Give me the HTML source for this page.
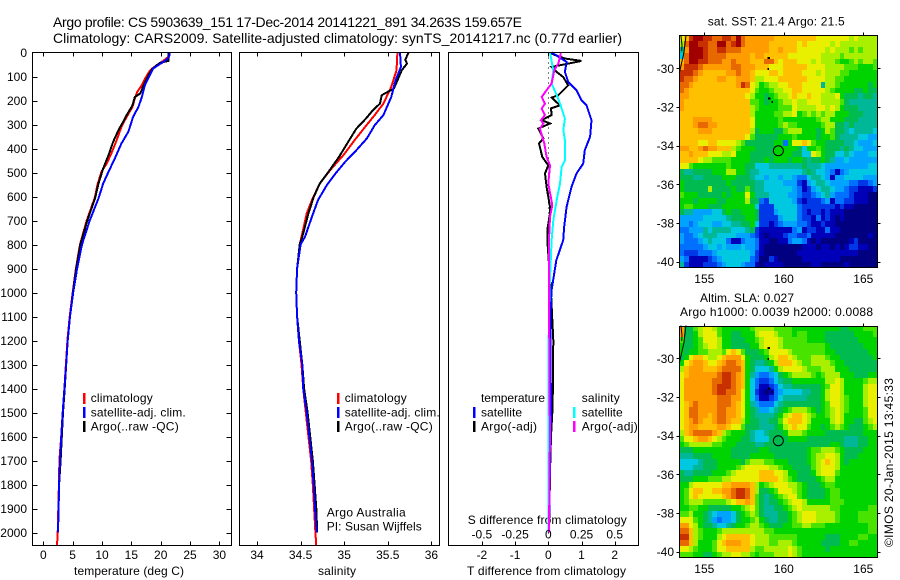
<!DOCTYPE html>
<html>
<head>
<meta charset="utf-8">
<title>Argo profile</title>
<style>
html,body{margin:0;padding:0;background:#fff;width:900px;height:580px;overflow:hidden}
svg{display:block}
text{font-family:"Liberation Sans",sans-serif;font-size:12px;fill:#000}
.title{font-size:14px}
</style>
</head>
<body>
<svg id="chart" xmlns="http://www.w3.org/2000/svg" width="900" height="580" viewBox="0 0 900 580">
<text class="title" x="53" y="27" textLength="469" lengthAdjust="spacing">Argo profile: CS 5903639_151 17-Dec-2014 20141221_891 34.263S 159.657E</text>
<text class="title" x="53" y="43" textLength="569" lengthAdjust="spacing">Climatology: CARS2009. Satellite-adjusted climatology: synTS_20141217.nc (0.77d earlier)</text>

<text x="74" y="575" textLength="110" lengthAdjust="spacing">temperature (deg C)</text>
<text x="318" y="575" textLength="38" lengthAdjust="spacing">salinity</text>
<text x="467" y="575" textLength="159" lengthAdjust="spacing">T difference from climatology</text>
<text x="467.7" y="524" textLength="159" lengthAdjust="spacing">S difference from climatology</text>

<g>
<rect x="83" y="393" width="2.5" height="11" fill="#ff0000"/>
<text x="90.7" y="402" textLength="62" lengthAdjust="spacing">climatology</text>
<rect x="83" y="407" width="2.5" height="11" fill="#0000ff"/>
<text x="90.7" y="416.5" textLength="95" lengthAdjust="spacing">satellite-adj. clim.</text>
<rect x="83" y="421" width="2.5" height="11" fill="#000"/>
<text x="90.7" y="430.5" textLength="88" lengthAdjust="spacing">Argo(..raw -QC)</text>
</g>
<g>
<rect x="337" y="393" width="2.5" height="11" fill="#ff0000"/>
<text x="344.7" y="402" textLength="62" lengthAdjust="spacing">climatology</text>
<rect x="337" y="407" width="2.5" height="11" fill="#0000ff"/>
<text x="344.7" y="416.5" textLength="95" lengthAdjust="spacing">satellite-adj. clim.</text>
<rect x="337" y="421" width="2.5" height="11" fill="#000"/>
<text x="344.7" y="430.5" textLength="88" lengthAdjust="spacing">Argo(..raw -QC)</text>
<text x="326.7" y="516.7" textLength="79" lengthAdjust="spacing">Argo Australia</text>
<text x="326.7" y="530.7" textLength="95" lengthAdjust="spacing">PI: Susan Wijffels</text>
</g>
<g>
<text x="481" y="402" textLength="64" lengthAdjust="spacing">temperature</text>
<rect x="473" y="407" width="2.5" height="11" fill="#0000ff"/>
<text x="481" y="416.5" textLength="41" lengthAdjust="spacing">satellite</text>
<rect x="473" y="421" width="2.5" height="11" fill="#000"/>
<text x="481" y="430.5" textLength="56" lengthAdjust="spacing">Argo(-adj)</text>
<text x="581.7" y="402" textLength="38" lengthAdjust="spacing">salinity</text>
<rect x="573" y="407" width="2.5" height="11" fill="#00ffff"/>
<text x="581.7" y="416.5" textLength="41" lengthAdjust="spacing">satellite</text>
<rect x="573" y="421" width="2.5" height="11" fill="#ff00ff"/>
<text x="581.7" y="430.5" textLength="56" lengthAdjust="spacing">Argo(-adj)</text>
</g>

<text x="707.7" y="25.5" textLength="137" lengthAdjust="spacing">sat. SST: 21.4 Argo: 21.5</text>
<text x="700" y="302" textLength="94" lengthAdjust="spacing">Altim. SLA: 0.027</text>
<text x="680" y="316" textLength="193" lengthAdjust="spacing">Argo h1000: 0.0039 h2000: 0.0088</text>
<text transform="translate(893 547) rotate(-90)" x="0" y="0" textLength="169" lengthAdjust="spacing">©IMOS 20-Jan-2015 13:45:33</text>
</svg>
<script>
// ---------- depth axis ----------
const depthTicks = [0,100,200,300,400,500,600,700,800,900,1000,1100,1200,1300,1400,1500,1600,1700,1800,1900,2000];

// ---------- temperature panel ----------
const tempTicks = [0,5,10,15,20,25,30];
const tempClimDepth = [0,18,36,53,74,110,136,164,199,227,268,310,365,414,463,497,553,602,700,800,900,1000,1100,1200,1300,1400,1500,1600,1700,1800,1900,2000,2055];
const tempClim = [21.4,21.3,20.4,19.3,18.2,17.3,16.8,16,15.5,15.2,14.2,13.3,12.5,11.7,10.8,9.9,9.2,8.8,7.4,6.25,5.55,5,4.5,4.1,3.85,3.6,3.3,3.05,2.75,2.65,2.55,2.45,2.33];
const tempSatDepth = [0,18,29,43,67,102,136,185,227,268,330,379,441,497,546,608,700,800,900,1000,1100,1200,1300,1400,1500,1600,1700,1800,1900,2000];
const tempSat = [21.5,21.45,21,20.2,18.7,18,17.3,16.8,16.2,15.3,14.5,13.3,12.2,11.1,10.2,9.4,7.9,6.6,5.75,5.1,4.55,4.15,3.9,3.6,3.3,3.07,2.85,2.7,2.6,2.5];
const tempArgoDepth = [0,35,43,67,95,136,171,185,220,261,289,324,372,428,483,546,608,700,800,900,1000,1100,1200,1300,1400,1500,1600,1700,1800,1900,2000];
const tempArgo = [21.3,21.3,19.9,18.6,17.9,17.1,16.5,15.6,15.2,14.2,13.6,12.8,11.9,11.1,10.2,9.4,8.8,7.5,6.3,5.6,5.05,4.55,4.15,3.9,3.65,3.35,3.15,2.95,2.7,2.6,2.5];

// ---------- salinity panel ----------
const salTicks = [34,34.5,35,35.5,36];
const salTickLabels = ["34","34.5","35","35.5","36"];
const salClimDepth = [0,74,143,213,261,310,365,428,490,546,615,671,768,800,900,1000,1100,1200,1300,1400,1500,1600,1700,1800,1900,2000,2055];
const salClim = [35.61,35.6,35.54,35.45,35.35,35.24,35.12,34.99,34.84,34.72,34.63,34.57,34.51,34.49,34.46,34.45,34.46,34.48,34.51,34.53,34.56,34.59,34.62,34.64,34.655,34.67,34.68];
const salSatDepth = [0,60,115,185,261,303,358,407,456,504,553,615,685,768,800,900,1000,1100,1200,1300,1400,1500,1600,1700,1800,1900,2000];
const salSat = [35.64,35.65,35.59,35.54,35.45,35.35,35.26,35.14,35.01,34.9,34.8,34.7,34.63,34.55,34.5,34.46,34.45,34.46,34.48,34.52,34.53,34.57,34.6,34.63,34.65,34.665,34.685];
const salArgoDepth = [0,30,46,74,150,178,213,240,275,317,358,435,497,546,602,671,768,800,900,1000,1100,1200,1300,1400,1500,1600,1700,1800,1900,2000];
const salArgo = [35.74,35.7,35.72,35.66,35.57,35.43,35.41,35.33,35.25,35.14,35.07,34.94,34.82,34.72,34.65,34.59,34.52,34.49,34.46,34.45,34.46,34.49,34.52,34.54,34.58,34.61,34.64,34.66,34.68,34.69];

// ---------- difference panel ----------
const diffTTicks = [-2,-1,0,1,2];
const diffSTicks = [-0.5,-0.25,0,0.25,0.5];
const diffSTickLabels = ["-0.5","-0.25","0","0.25","0.5"];
const diffTSatDepth = [0,39,81,122,157,199,220,282,351,407,463,504,560,643,726,782,866,990,1100,1300,1500,1700,2000];
const diffTSat = [0.1,0.55,0.5,0.6,0.85,1.0,1.15,1.3,1.26,1.1,1.05,0.85,0.7,0.55,0.48,0.45,0.24,0.1,0.06,0.07,0.08,0.05,0.02];
const diffTArgoDepth = [3,25,35,49,60,81,102,137,178,188,220,233,261,282,296,317,358,379,435,470,504,560,643,671,740,782,1000,1200,1400,1500,1600,1700,2000];
const diffTArgo = [0.05,0.5,1.0,0.5,0.1,0.25,0.45,0.6,0.3,0.1,0.35,0.08,0.1,-0.2,0.05,-0.3,-0.15,-0.28,-0.18,0,-0.1,-0.05,0.05,0.05,-0.03,-0.03,0.08,0.15,0.14,0.12,0.08,0.06,0.02];
const diffSSatDepth = [0,74,129,178,213,275,324,365,449,477,546,615,699,782,1000,1300,1600,2000];
const diffSSat = [0.0125,0.038,0.025,0.063,0.088,0.125,0.113,0.125,0.125,0.1,0.088,0.063,0.038,0.025,0.008,0,0,0.002];
const diffSArgoDepth = [3,46,74,129,185,213,233,261,282,296,317,379,435,470,546,636,685,782,1000,1300,1600,2000];
const diffSArgo = [0.095,0.075,0.045,0.025,-0.05,-0.025,-0.05,-0.025,-0.055,-0.038,-0.063,-0.03,-0.0125,0.0125,0,0.03,0.0125,0.005,0.005,0.008,0.012,0.005];

// ---------- map axes ----------
const lonTicks = [155,160,165];
const latTicks = [-30,-32,-34,-36,-38,-40];
const argoLon = 159.657;
const argoLat = -34.263;
const coastLon = [153.85,153.72,153.43];
const coastLat = [-28.3,-29.2,-30.25];
const coastLon2 = [153.53,153.6,153.58];
const coastLat2 = [-28.3,-28.8,-29.1];
const islandLon = [159.03,159.03,159.07,159.28];
const islandLat = [-29.48,-30.04,-31.55,-31.73];

// colour levels, cold to warm
const levelColors = ["#000080","#0000b8","#0038e8","#0070ff","#00a4ff","#00c8e0","#00b898","#00bc50","#00d400","#48e400","#a8f000","#e8f000","#ffc000","#ff9c00","#e86800","#c83000","#a00000"];

// ---------- sea surface temperature (colour level per cell) ----------
const sstCells = [
[11,12,15,16,16,15,15,14,14,15,15,14,16,14,13,13,13,13,13,13,12,12,12,12,12,12,12,12,12,11,11,11,11,11,11,11,10,11,10,10,10,10],
[10,14,16,16,15,15,14,14,16,16,14,15,16,14,13,13,13,13,13,12,12,12,12,12,12,11,12,11,11,11,11,11,10,11,10,10,10,10,10,10,10,10],
[6,13,16,16,16,15,14,14,15,15,14,14,14,13,13,13,13,13,13,12,12,13,12,12,12,11,11,11,11,11,11,10,11,10,10,10,9,10,9,10,10,10],
[5,14,16,16,16,15,14,14,14,14,13,13,13,13,13,12,13,13,12,12,12,12,12,11,11,11,11,11,11,11,10,10,10,10,9,10,10,10,10,10,10,10],
[12,14,16,16,15,15,14,14,14,13,13,14,13,13,13,12,12,12,14,14,12,11,12,12,12,11,11,11,10,11,10,10,10,9,8,8,9,10,9,10,10,9],
[13,15,15,15,14,13,13,13,13,13,13,14,14,13,13,13,12,12,12,11,11,11,12,12,12,12,12,11,11,11,11,10,10,10,10,9,9,9,8,8,8,9],
[15,15,15,14,13,12,12,12,12,12,13,13,14,13,13,12,11,11,11,12,12,11,12,12,12,12,11,11,11,10,11,10,10,10,9,9,8,8,8,8,8,8],
[15,14,14,13,12,12,12,12,13,13,12,12,13,13,13,12,10,10,11,11,11,12,12,12,12,12,12,11,11,11,11,10,10,9,9,8,8,8,8,8,8,8],
[14,14,13,12,12,12,12,12,12,12,12,12,13,15,14,11,10,8,9,10,10,11,11,12,12,12,11,11,11,11,6,10,10,9,8,8,8,8,8,8,7,8],
[14,13,12,12,12,12,12,12,12,12,12,12,12,12,12,11,9,8,8,9,10,10,11,11,12,12,11,11,11,11,11,10,9,8,8,8,8,7,7,8,7,7],
[13,13,12,12,12,12,12,12,12,12,12,12,12,12,11,10,8,8,7,8,9,10,10,11,12,11,11,12,11,11,10,10,10,11,8,7,7,7,6,7,7,6],
[13,12,12,12,12,12,12,12,12,12,12,12,12,12,12,9,9,8,7,8,8,9,10,10,11,10,10,11,11,11,10,10,10,10,9,7,6,6,6,6,6,6],
[13,12,12,12,12,12,12,12,12,12,12,12,12,12,12,10,9,8,8,8,8,9,9,9,11,10,10,10,10,11,11,10,11,10,8,7,7,7,6,6,6,6],
[12,12,12,12,12,12,12,12,12,12,12,12,12,12,12,10,8,8,8,8,9,9,10,10,11,8,9,10,9,10,9,10,10,8,8,8,7,7,7,6,6,6],
[12,12,12,13,13,13,13,12,12,12,12,12,12,12,12,11,8,8,8,8,8,9,8,8,8,8,8,8,8,9,10,10,8,8,8,7,7,7,6,6,6,6],
[12,12,12,13,14,14,13,13,12,12,12,12,12,12,12,11,8,8,8,8,8,9,10,9,9,8,8,8,8,8,9,10,10,7,7,6,7,6,6,6,6,6],
[12,12,12,12,13,13,13,12,12,12,12,12,12,12,12,10,7,8,8,8,7,7,9,10,10,10,8,8,8,7,8,10,9,7,7,6,5,6,6,6,6,5],
[12,12,12,12,12,12,12,12,12,12,12,12,12,12,11,9,7,7,7,7,7,8,8,8,9,8,8,8,8,7,8,8,9,7,6,6,6,6,5,5,4,4],
[12,12,12,12,11,11,12,12,11,11,11,11,10,9,7,7,7,7,7,7,8,8,3,8,11,11,12,11,9,8,8,7,7,7,7,6,6,5,4,4,4,5],
[13,13,12,12,13,14,13,13,12,12,12,10,9,8,8,8,7,7,7,7,8,8,8,8,8,7,5,8,8,9,8,7,7,7,6,7,6,5,5,4,4,4],
[12,12,13,12,12,12,11,11,11,10,10,11,8,8,8,7,7,7,7,7,8,8,8,8,7,7,5,5,11,10,8,7,7,5,5,6,5,4,4,4,5,5],
[12,12,12,12,11,10,10,9,9,9,9,8,8,8,8,7,7,7,8,7,8,8,8,7,8,8,7,6,7,7,8,7,6,4,4,5,4,4,4,4,4,4],
[11,11,9,8,8,8,8,8,8,8,9,8,8,8,7,7,5,5,5,6,6,6,6,6,6,6,7,6,6,6,5,4,4,4,4,4,4,4,4,4,5,5],
[7,6,6,7,7,7,7,8,8,8,10,10,8,8,7,6,6,5,5,5,5,5,5,5,5,5,6,7,6,5,5,4,3,1,3,4,5,5,5,5,5,5],
[7,7,7,6,6,7,7,7,7,8,8,8,7,7,7,6,5,5,4,5,5,4,5,5,4,3,3,5,6,6,5,4,1,4,4,5,5,5,5,4,4,4],
[8,7,7,7,7,7,7,7,7,7,8,7,7,7,7,7,6,6,5,5,5,5,4,4,4,2,1,4,5,6,6,5,4,4,4,4,3,3,2,2,3,4],
[8,7,7,7,7,7,10,7,7,7,7,8,7,7,9,7,6,6,5,5,5,5,5,5,4,3,1,2,4,5,6,6,5,4,4,3,2,2,1,1,1,2],
[9,8,8,8,7,7,7,7,7,8,7,8,8,8,11,8,6,6,6,5,5,5,5,4,4,3,2,2,3,4,5,6,4,3,3,3,2,1,1,1,0,0],
[8,8,8,7,8,8,8,8,7,7,8,8,8,8,10,7,7,3,2,5,5,5,5,5,4,2,1,2,2,2,3,4,1,3,3,2,2,1,1,1,0,0],
[8,9,9,8,8,8,7,7,7,8,8,8,8,8,8,8,5,2,2,2,5,5,5,5,5,3,2,2,2,2,2,2,2,1,2,1,1,0,0,0,0,0],
[7,6,6,4,4,4,4,5,5,7,8,7,7,8,8,8,7,2,2,2,4,5,5,5,5,3,2,1,2,2,1,2,1,1,1,0,0,0,0,0,0,0],
[4,4,4,4,4,5,5,5,5,5,6,7,7,7,8,8,7,2,2,2,2,4,5,5,5,3,2,2,1,3,1,2,1,0,1,0,0,0,0,0,0,0],
[4,4,3,4,5,5,5,4,4,5,5,6,6,7,7,8,5,2,2,1,2,3,4,4,4,3,3,2,1,1,2,1,1,0,0,0,0,0,0,0,0,0],
[3,3,4,4,4,6,5,6,6,6,6,5,5,5,6,7,2,1,1,1,1,1,1,1,3,4,1,2,2,1,1,3,1,1,0,0,0,0,0,0,0,0],
[4,3,3,4,5,6,6,6,5,5,5,5,4,4,4,3,2,1,0,1,1,1,2,3,3,2,2,3,1,1,1,1,1,0,0,0,0,0,0,0,1,0],
[4,3,3,3,4,5,6,5,5,5,3,1,1,3,4,4,3,1,1,0,0,1,1,3,4,4,3,1,0,1,0,0,0,0,0,0,1,2,0,0,0,0],
[3,3,3,3,3,4,5,5,4,5,4,4,4,5,4,4,3,1,0,0,0,0,0,0,0,0,1,1,1,0,1,1,0,1,0,1,2,2,1,1,0,0],
[3,2,2,2,3,3,3,4,5,5,5,5,5,5,5,4,2,1,0,0,0,0,0,0,0,1,1,1,1,1,1,1,1,1,1,1,1,1,0,0,0,0],
[4,3,1,1,1,1,2,3,4,5,5,5,5,5,5,3,2,0,0,2,1,0,0,0,0,0,1,1,1,1,1,1,1,1,0,0,0,0,0,0,0,0],
[6,2,1,1,1,2,2,2,3,4,5,5,5,4,3,3,1,0,1,1,1,1,0,0,0,0,0,0,1,1,0,0,0,0,0,1,0,0,0,0,0,0]
];

// ---------- sea level anomaly (colour level per cell) ----------
const slaCells = [
[13,7,7,9,10,11,11,10,9,8,8,8,8,8,8,9,10,10,10,10,9,9,9,9,8,8,8,8,8,8,8,8,8,8,7,7,8,8,8,9,9,9],
[13,7,7,8,10,11,11,11,9,8,8,7,7,8,8,8,10,11,11,11,10,9,9,9,8,9,9,8,8,8,8,7,7,7,7,7,7,8,8,8,8,9],
[9,7,7,8,9,11,11,11,10,8,8,7,7,7,8,8,9,10,11,11,11,10,9,9,9,9,9,8,8,8,8,7,7,7,7,7,7,7,8,8,8,8],
[8,7,7,8,9,10,11,11,10,8,8,7,7,7,7,8,8,10,11,11,11,10,9,9,9,9,9,9,9,9,9,8,7,7,7,7,7,7,7,8,8,8],
[8,7,8,8,9,9,10,10,10,9,11,12,11,9,7,7,7,8,9,11,11,11,11,10,9,9,9,9,9,9,9,8,8,7,7,7,7,7,7,7,8,8],
[7,8,11,12,12,11,10,10,11,12,13,13,13,11,8,7,7,7,8,10,11,12,12,11,10,9,9,9,10,10,10,9,8,8,7,7,7,7,7,7,7,8],
[8,11,12,13,13,12,11,11,12,13,14,14,13,12,8,7,6,6,7,8,10,12,12,12,11,10,9,9,10,10,10,10,9,8,8,7,7,7,7,7,7,7],
[10,12,13,13,13,12,12,12,13,14,14,14,14,12,8,7,5,5,5,6,8,10,11,11,11,11,10,9,9,9,10,10,10,8,8,8,7,7,7,7,7,7],
[11,12,13,13,13,13,13,13,14,15,15,14,13,12,8,6,4,3,3,4,5,7,8,9,10,10,10,10,9,8,9,10,10,10,8,8,8,7,7,7,8,8],
[11,13,13,13,13,13,13,14,14,15,15,14,13,12,8,5,3,2,2,3,5,6,7,7,8,8,8,8,8,8,8,10,10,11,10,8,8,8,8,9,10,10],
[11,13,13,13,13,13,13,14,15,15,15,14,13,12,8,5,3,1,1,2,3,5,6,6,7,7,7,7,7,7,8,9,11,11,10,8,8,8,8,10,11,11],
[11,13,13,13,13,13,13,14,15,15,14,14,13,11,8,5,2,1,0,1,3,4,5,5,5,5,6,6,7,7,8,10,11,11,10,8,8,8,8,10,11,11],
[11,13,13,13,13,13,13,13,14,14,14,13,13,11,8,5,3,1,1,2,3,5,6,6,6,6,6,7,7,7,8,10,11,11,10,9,8,8,8,10,11,11],
[11,12,13,14,13,13,13,13,14,14,14,13,12,11,8,6,4,3,3,3,5,6,7,7,7,7,7,7,7,7,8,9,11,11,10,9,8,8,8,10,11,11],
[11,12,14,14,13,13,13,13,14,14,13,13,12,11,8,7,6,4,4,5,6,7,8,9,10,10,10,9,8,7,8,9,10,11,10,9,8,8,8,9,11,11],
[11,12,14,14,13,13,12,13,14,14,13,13,12,11,8,7,6,6,6,6,7,8,10,11,12,12,11,10,9,8,8,9,10,11,10,8,8,8,8,9,11,11],
[11,12,13,14,13,12,12,13,14,14,13,12,12,10,8,7,7,6,6,7,7,9,11,12,12,12,11,10,8,8,8,8,10,11,10,8,8,7,7,9,10,11],
[11,12,13,13,12,12,12,12,13,13,12,11,11,9,7,7,7,6,6,6,7,8,10,11,12,11,11,9,8,8,7,8,9,10,9,8,7,7,7,8,9,10],
[10,12,13,14,14,14,14,13,12,10,9,8,8,8,7,6,5,5,6,7,7,7,8,10,10,10,9,8,8,8,8,7,7,7,7,7,7,7,7,8,8,8],
[9,11,11,12,13,13,12,11,10,9,8,8,8,7,7,6,5,5,5,7,7,7,7,8,8,8,8,7,7,7,7,7,7,7,7,6,6,6,7,7,8,8],
[8,9,10,10,10,10,10,9,9,8,8,8,7,7,7,7,6,6,7,7,7,7,7,7,7,7,7,7,7,7,7,7,8,8,7,6,6,6,7,7,8,8],
[7,7,7,8,8,8,8,8,8,8,8,7,7,7,7,7,7,8,8,7,7,7,7,7,7,7,7,8,9,9,10,10,10,9,8,7,7,7,7,8,8,8],
[6,6,6,7,7,7,7,8,8,8,8,7,7,7,7,8,8,8,8,8,7,7,7,7,7,7,7,8,9,10,10,11,11,10,8,7,7,7,8,8,8,8],
[5,5,5,5,6,7,7,7,8,8,8,8,8,7,9,10,10,10,9,9,8,8,8,7,7,7,7,8,9,10,11,12,11,10,8,7,8,8,8,8,8,8],
[5,5,5,6,6,7,7,7,8,8,8,8,9,10,11,11,11,11,11,10,10,9,8,8,7,7,7,7,9,10,11,11,11,10,8,8,8,8,8,8,8,8],
[7,6,6,7,7,7,7,8,8,8,9,10,11,11,11,11,11,12,12,12,11,11,10,8,8,7,7,7,8,10,11,11,11,9,8,8,8,8,8,8,8,8],
[7,7,7,8,8,8,9,9,9,10,10,11,11,11,11,11,11,12,12,12,12,11,10,9,8,7,7,7,7,8,9,10,10,8,8,8,8,8,8,8,8,8],
[8,8,10,11,11,11,11,11,11,12,12,13,13,13,13,12,10,8,9,10,11,11,11,10,10,9,8,7,7,7,8,9,9,8,8,8,8,8,8,8,8,8],
[8,9,11,12,12,11,11,12,12,13,13,14,15,15,14,12,10,7,7,8,9,11,11,11,10,9,8,7,7,7,7,8,9,9,8,8,8,8,8,8,8,8],
[8,9,11,12,11,11,11,11,11,12,13,14,15,15,14,12,9,7,6,7,8,9,10,11,11,9,8,7,7,7,7,8,9,9,8,8,8,8,8,8,8,8],
[8,9,10,10,10,9,9,9,9,9,10,11,12,12,13,12,9,7,6,7,7,8,9,10,11,11,10,8,8,8,8,8,9,9,9,8,8,8,8,8,8,8],
[8,8,9,9,8,8,7,7,7,7,7,8,8,9,10,11,9,7,6,6,7,7,8,9,10,11,10,10,10,10,10,10,9,9,8,8,8,8,8,8,9,9],
[9,9,10,8,8,7,6,5,4,4,4,5,7,8,9,10,9,7,6,6,6,7,7,8,9,10,11,11,11,10,10,10,10,9,8,8,8,8,9,9,9,9],
[11,11,11,9,8,7,6,4,3,4,4,5,7,8,8,9,10,8,7,6,6,7,7,8,9,10,11,11,11,10,10,10,10,9,8,8,8,8,9,9,9,9],
[13,13,11,10,8,7,7,6,5,5,6,7,8,8,9,10,10,9,8,7,7,7,8,8,9,9,10,10,9,9,9,8,8,8,8,8,8,8,8,8,9,9],
[14,14,12,10,9,8,8,8,9,10,10,10,10,10,10,10,10,10,9,9,8,8,8,8,8,8,8,8,8,8,8,8,8,8,8,8,8,8,8,8,9,9],
[15,15,12,10,9,8,8,8,10,11,12,12,12,12,12,11,10,10,10,9,9,9,9,9,9,8,8,8,8,8,8,7,7,7,8,8,8,8,9,9,8,8],
[14,14,12,10,8,8,8,9,11,12,13,13,13,12,12,11,10,10,10,9,9,10,10,10,9,8,8,8,8,8,7,7,7,7,8,8,9,9,8,8,8,8],
[11,11,10,9,8,8,8,9,11,11,12,12,12,12,12,10,9,9,10,10,10,10,10,11,10,9,8,8,8,8,8,7,8,8,8,8,8,8,8,8,8,8],
[9,9,9,8,8,7,7,8,9,10,10,11,11,10,10,9,8,9,9,9,10,10,10,11,10,9,8,8,8,8,8,8,8,8,8,8,8,8,8,8,8,8]
];

const svg = document.getElementById('chart');
const NS = 'http://www.w3.org/2000/svg';
function mk(tag, attrs, parent) {
  const el = document.createElementNS(NS, tag);
  for (const k in attrs) el.setAttribute(k, attrs[k]);
  (parent || svg).appendChild(el);
  return el;
}

// axis functions
const yDepth = d => 52.5 + d * 0.24;
const xTemp = t => 43.3 + t * 5.87;
const xSal = s => 257 + (s - 34) * 87.2;
const xDT = t => 548.3 + t * 33.2;
const xDS = s => 548.3 + s * 132.8;
const xLon = lon => 704.3 + (lon - 155) * 15.9;
const yLat1 = lat => 68.3 + (-30 - lat) * 19.34;
const yLat2 = lat => 358.3 + (-30 - lat) * 19.34;

function drawSeries(name, depths, values, xFn, color, width) {
  const pts = values.map((v, i) => xFn(v).toFixed(1) + ',' + yDepth(depths[i]).toFixed(1)).join(' ');
  const el = mk('polyline', {points: pts, fill: 'none', stroke: color, 'stroke-width': width, 'shape-rendering': 'crispEdges'});
  
  
}
function box(name, x0, y0, x1, y1) {
  const el = mk('rect', {x: x0, y: y0, width: x1 - x0, height: y1 - y0, fill: 'none', stroke: '#000', 'stroke-width': 1, 'shape-rendering': 'crispEdges'});
  
  
}
function tick(x1, y1, x2, y2) {
  const el = mk('line', {x1: x1, y1: y1, x2: x2, y2: y2, stroke: '#000', 'stroke-width': 1, 'shape-rendering': 'crispEdges'});
  
  
}
function label(txt, x, y, anchor) {
  const el = mk('text', {x: x, y: y, 'text-anchor': anchor});
  el.textContent = txt;
  
  
}
function xTicks(vals, labels, fn, y, yBot, yLabel) {
  vals.forEach((v, i) => {
    const x = Math.round(fn(v)) + 0.5;
    tick(x, y, x, y + 4);
    tick(x, yBot, x, yBot - 4);
    if (labels) label(labels[i], fn(v), yLabel, 'middle');
  });
}

// profile panels
const top0 = 52.5, bot0 = 545.5;

drawSeries('temperature-climatology-line', tempClimDepth, tempClim, xTemp, '#ff0000', 2);
drawSeries('temperature-argo-line', tempArgoDepth, tempArgo, xTemp, '#000000', 2);
drawSeries('temperature-satellite-line', tempSatDepth, tempSat, xTemp, '#0000ff', 2);
box('temperature-panel-frame', 32.5, top0, 231.5, bot0);
xTicks(tempTicks, tempTicks.map(String), xTemp, top0, bot0, 559);
depthTicks.forEach(d => {
  const y = Math.round(yDepth(d)) + 0.5;
  if (d > 0) {
    tick(32.5, y, 37.5, y);
    tick(231.5, y, 226.5, y);
  }
  label(String(d), 27, yDepth(d) + 4.5, 'end');
});

drawSeries('salinity-climatology-line', salClimDepth, salClim, xSal, '#ff0000', 2);
drawSeries('salinity-argo-line', salArgoDepth, salArgo, xSal, '#000000', 2);
drawSeries('salinity-satellite-line', salSatDepth, salSat, xSal, '#0000ff', 2);
box('salinity-panel-frame', 239.5, top0, 439.5, bot0);
xTicks(salTicks, salTickLabels, xSal, top0, bot0, 559);

const zero = mk('line', {x1: xDT(0), y1: yDepth(0), x2: xDT(0), y2: yDepth(2055), stroke: '#000', 'stroke-width': 1, 'stroke-dasharray': '1 4', 'shape-rendering': 'crispEdges'});


drawSeries('t-difference-argo-line', diffTArgoDepth, diffTArgo, xDT, '#000000', 2);
drawSeries('t-difference-satellite-line', diffTSatDepth, diffTSat, xDT, '#0000ff', 2);
drawSeries('s-difference-satellite-line', diffSSatDepth, diffSSat, xDS, '#00ffff', 2);
drawSeries('s-difference-argo-line', diffSArgoDepth, diffSArgo, xDS, '#ff00ff', 2);
box('difference-panel-frame', 448.5, top0, 638.5, bot0);
xTicks(diffTTicks, diffTTicks.map(String), xDT, top0, bot0, 559);
diffSTicks.forEach((v, i) => label(diffSTickLabels[i], xDS(v), 538.7, 'middle'));

// maps
function drawMap(name, cells, top, bottom, yLat) {
  const left = 679.3, right = 877.3;
  const g = mk('g', {});
  
  
  const nRows = cells.length, nCols = cells[0].length;
  const cw = (right - left) / nCols, ch = (bottom - top) / nRows;
  cells.forEach((row, r) => {
    row.forEach((v, c) => {
      const x0 = Math.round(left + c * cw), x1 = Math.round(left + (c + 1) * cw);
      const y0 = Math.round(top + r * ch), y1 = Math.round(top + (r + 1) * ch);
      const cell = mk('rect', {x: x0, y: y0, width: x1 - x0, height: y1 - y0, fill: levelColors[v], 'shape-rendering': 'crispEdges'}, g);
      
      
    });
  });
  [[coastLon, coastLat], [coastLon2, coastLat2]].forEach(pair => {
    const pts = pair[0].map((lon, i) => xLon(lon).toFixed(1) + ',' + yLat(pair[1][i]).toFixed(1)).join(' ');
    const coast = mk('polyline', {points: pts, fill: 'none', stroke: '#000', 'stroke-width': 1}, g);
    
    
  });
  islandLon.forEach((lon, i) => {
    const isl = mk('rect', {x: xLon(lon) - 1, y: yLat(islandLat[i]) - 1, width: i % 2 ? 1.5 : 2.5, height: 2, fill: '#000', 'shape-rendering': 'crispEdges'}, g);
    
    
  });
  const circ = mk('circle', {cx: xLon(argoLon), cy: yLat(argoLat), r: 5, fill: 'none', stroke: '#000', 'stroke-width': 1}, g);
  
  
  box(name + '-frame', 679.5, Math.round(top) + 0.5, 877.5, Math.round(bottom) + 0.5);
  lonTicks.forEach(lon => {
    const x = Math.round(xLon(lon)) + 0.5;
    tick(x, Math.round(top) - 2.5, x, Math.round(top) + 0.5);
    label(String(lon), xLon(lon), Math.round(bottom) + 16, 'middle');
  });
  latTicks.forEach(lat => {
    const y = Math.round(yLat(lat)) + 0.5;
    tick(676.5, y, 679.5, y);
    tick(877.5, y, 880.5, y);
    label(String(lat), 674, yLat(lat) + 4.5, 'end');
  });
}
drawMap('sst-map', sstCells, 35.3, 267.3, yLat1);
drawMap('sla-map', slaCells, 325.7, 557.3, yLat2);
</script>
</body>
</html>
